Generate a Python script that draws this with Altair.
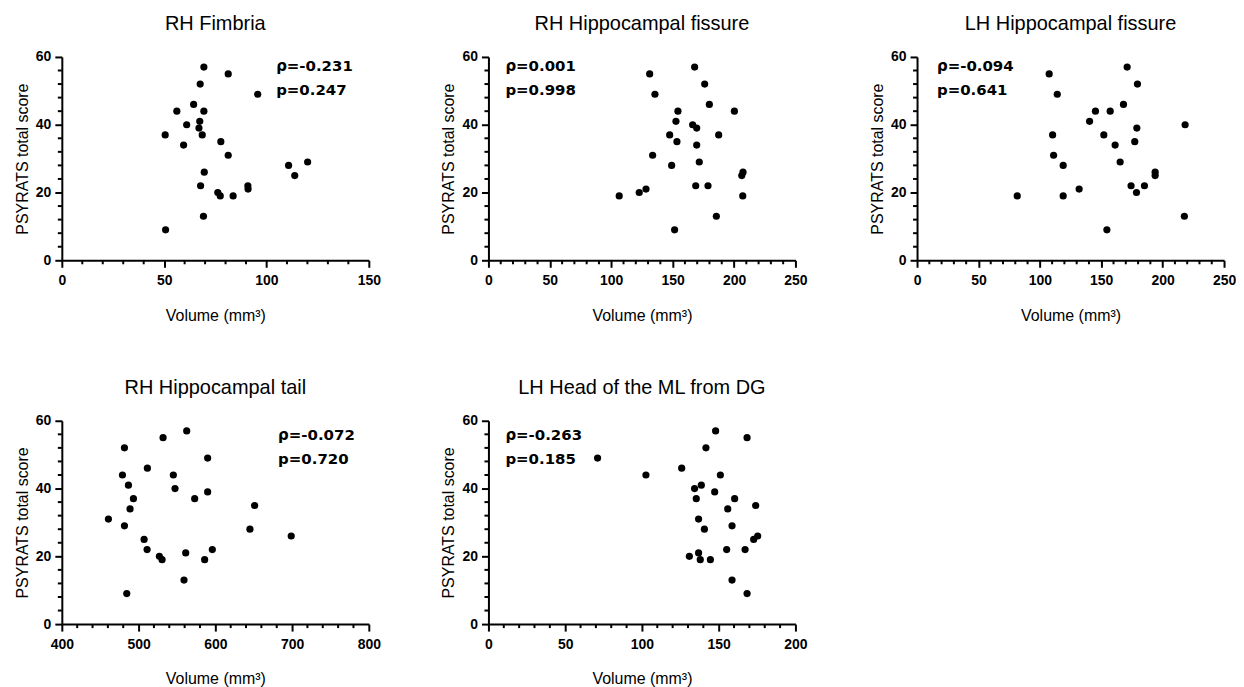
import altair as alt
import pandas as pd

# ---------------- data ----------------
titles = ["RH Fimbria", "RH Hippocampal fissure", "LH Hippocampal fissure",
          "RH Hippocampal tail", "LH Head of the ML from DG"]
rho_vals = ["-0.231", "0.001", "-0.094", "-0.072", "-0.263"]
p_vals = ["0.247", "0.998", "0.641", "0.720", "0.185"]

fimbria_x = [69.4, 81.3, 67.6, 95.7, 64.4, 56.2, 69.4, 67.4, 67.0, 61.0, 50.5, 68.6, 59.5, 77.7,
             81.3, 110.8, 120.1, 113.8, 69.6, 67.8, 76.2, 77.4, 83.7, 90.9, 91.0, 69.2, 50.7]
fimbria_y = [57, 55, 52, 49, 46, 44, 44, 41, 39, 40, 37, 37, 34, 35, 31, 28, 29, 25, 26, 22, 20,
             19, 19, 22, 21, 13, 9]

rh_fissure_x = [167.9, 131.3, 176.1, 135.6, 179.9, 200.3, 154.3, 152.7, 166.3, 169.6, 147.6, 187.5,
                153.5, 169.6, 133.7, 171.7, 149.2, 207.3, 206.3, 122.8, 128.3, 106.5, 168.8, 178.8,
                207.1, 185.6, 151.6]
rh_fissure_y = [57, 55, 52, 49, 46, 44, 44, 41, 40, 39, 37, 37, 35, 34, 31, 29, 28, 26, 25, 20, 21,
                19, 22, 22, 19, 13, 9]

lh_fissure_x = [171.1, 107.6, 179.5, 114.2, 168.1, 145.3, 157.3, 140.5, 218.3, 179.0, 110.4, 152.1,
                177.3, 161.3, 111.2, 165.4, 119.0, 193.9, 193.9, 174.3, 185.2, 178.7, 132.0, 81.6,
                119.0, 217.7, 154.6]
lh_fissure_y = [57, 55, 52, 49, 46, 44, 44, 41, 40, 39, 37, 37, 35, 34, 31, 29, 28, 26, 25, 22, 22,
                20, 21, 19, 19, 13, 9]

tail_x = [562.7, 531.9, 481.6, 590.0, 511.5, 479.0, 545.3, 486.8, 547.5, 590.0, 493.3, 573.1, 651.2,
          488.9, 460.7, 481.6, 645.1, 698.9, 507.2, 511.1, 596.1, 527.1, 530.6, 561.4, 586.1, 559.2,
          484.6]
tail_y = [57, 55, 52, 49, 46, 44, 44, 41, 40, 39, 37, 37, 35, 34, 31, 29, 28, 26, 25, 22, 22, 20,
          19, 21, 19, 13, 9]

ml_x = [148.0, 168.5, 141.7, 71.1, 125.9, 102.6, 151.1, 134.3, 138.7, 147.4, 135.4, 160.4, 174.1,
        155.9, 136.9, 158.7, 140.7, 175.4, 172.8, 155.2, 167.2, 130.9, 136.9, 138.0, 144.6, 158.7,
        168.5]
ml_y = [57, 55, 52, 49, 46, 44, 44, 40, 41, 39, 37, 37, 35, 34, 31, 29, 28, 26, 25, 22, 22, 20, 21,
        19, 19, 13, 9]

x_domains = [[0, 150], [0, 250], [0, 250], [400, 800], [0, 200]]
x_minor_steps = [10, 10, 10, 20, 10]
x_major_steps = [50, 50, 50, 100, 50]
y_domain = [0, 60]
y_minor_step = 4
y_major_step = 20

x_title = "Volume (mm³)"
y_title = "PSYRATS total score"

# ---------------- layout / style ----------------
PW, PH = 308, 204
FONT = "Liberation Sans"
MINOR = 4
# annotation placement (pixels within plot area)
ann_pos = [(215, 8.7, 33.3), (17, 8.7, 33.3), (20, 8.7, 33.3), (217, 14.3, 38.3), (17, 14.3, 38.3)]


def panel(i, xs, ys):
    df = pd.DataFrame({"x": xs, "y": ys})
    x0, x1 = x_domains[i]
    xm = x_major_steps[i]
    xmaj = list(range(x0, x1 + 1, xm))
    xmin = [v for v in range(x0, x1 + 1, x_minor_steps[i]) if v % xm != 0]
    ymaj = list(range(y_domain[0], y_domain[1] + 1, y_major_step))
    ymin = [v for v in range(y_domain[0], y_domain[1] + 1, y_minor_step) if v % y_major_step != 0]

    xs_scale = alt.Scale(domain=[x0, x1], nice=False, zero=False)
    ys_scale = alt.Scale(domain=y_domain, nice=False)

    pts = alt.Chart(df).mark_circle(size=52, color="black", opacity=1).encode(
        x=alt.X("x:Q", scale=xs_scale, axis=alt.Axis(values=xmaj, title=x_title)),
        y=alt.Y("y:Q", scale=ys_scale, axis=alt.Axis(values=ymaj, title=y_title)),
    )
    yminor = alt.Chart(pd.DataFrame({"y": ymin})).mark_rule(stroke="#000000", strokeWidth=2).encode(
        y=alt.Y("y:Q", scale=ys_scale), x=alt.value(0), x2=alt.value(-MINOR))
    xminor = alt.Chart(pd.DataFrame({"x": xmin})).mark_rule(stroke="#000000", strokeWidth=2).encode(
        x=alt.X("x:Q", scale=xs_scale), y=alt.value(PH), y2=alt.value(PH + MINOR))

    tx, ty1, ty2 = ann_pos[i]
    lab = pd.DataFrame({"t": [f"ρ={rho_vals[i]}", f"p={p_vals[i]}"]})
    t1 = alt.Chart(lab).transform_filter(alt.datum.t == f"ρ={rho_vals[i]}").mark_text(
        font="DejaVu Sans", fontWeight="bold", fontSize=15, align="left", baseline="middle",
        color="black").encode(text="t:N", x=alt.value(tx), y=alt.value(ty1))
    t2 = alt.Chart(lab).transform_filter(alt.datum.t == f"p={p_vals[i]}").mark_text(
        font="DejaVu Sans", fontWeight="bold", fontSize=15, align="left", baseline="middle",
        color="black").encode(text="t:N", x=alt.value(tx), y=alt.value(ty2))
    return alt.layer(pts, yminor, xminor, t1, t2).properties(
        width=PW, height=PH,
        title=alt.TitleParams(titles[i], font=FONT, fontSize=20, fontWeight="normal",
                              anchor="middle", frame="group", offset=16, color="black"))


p1 = panel(0, fimbria_x, fimbria_y)
p2 = panel(1, rh_fissure_x, rh_fissure_y)
p3 = panel(2, lh_fissure_x, lh_fissure_y)
p4 = panel(3, tail_x, tail_y)
p5 = panel(4, ml_x, ml_y)

row1 = alt.hconcat(p1, alt.hconcat(p2, p3, spacing=62), spacing=60)
row2 = alt.hconcat(p4, p5, spacing=60)

chart = alt.vconcat(row1, row2, spacing=55).properties(
    padding={"left": 6, "top": 5, "right": 0, "bottom": 0}
).configure_view(strokeWidth=0).configure_axis(
    grid=False, domainColor="#000000", domainWidth=2, domainOpacity=1,
    tickColor="#000000", tickWidth=2, tickSize=7, tickOpacity=1,
    labelFont=FONT, labelFontWeight="bold", labelFontSize=14, labelColor="black",
    titleFont=FONT, titleFontWeight="normal", titleFontSize=16, titleColor="black",
    labelFlush=False, labelOverlap=False
).configure_axisY(labelPadding=4, titlePadding=5).configure_axisX(labelPadding=6, titlePadding=20)

chart.save("out.html", embed_options={"renderer": "svg", "actions": False})
